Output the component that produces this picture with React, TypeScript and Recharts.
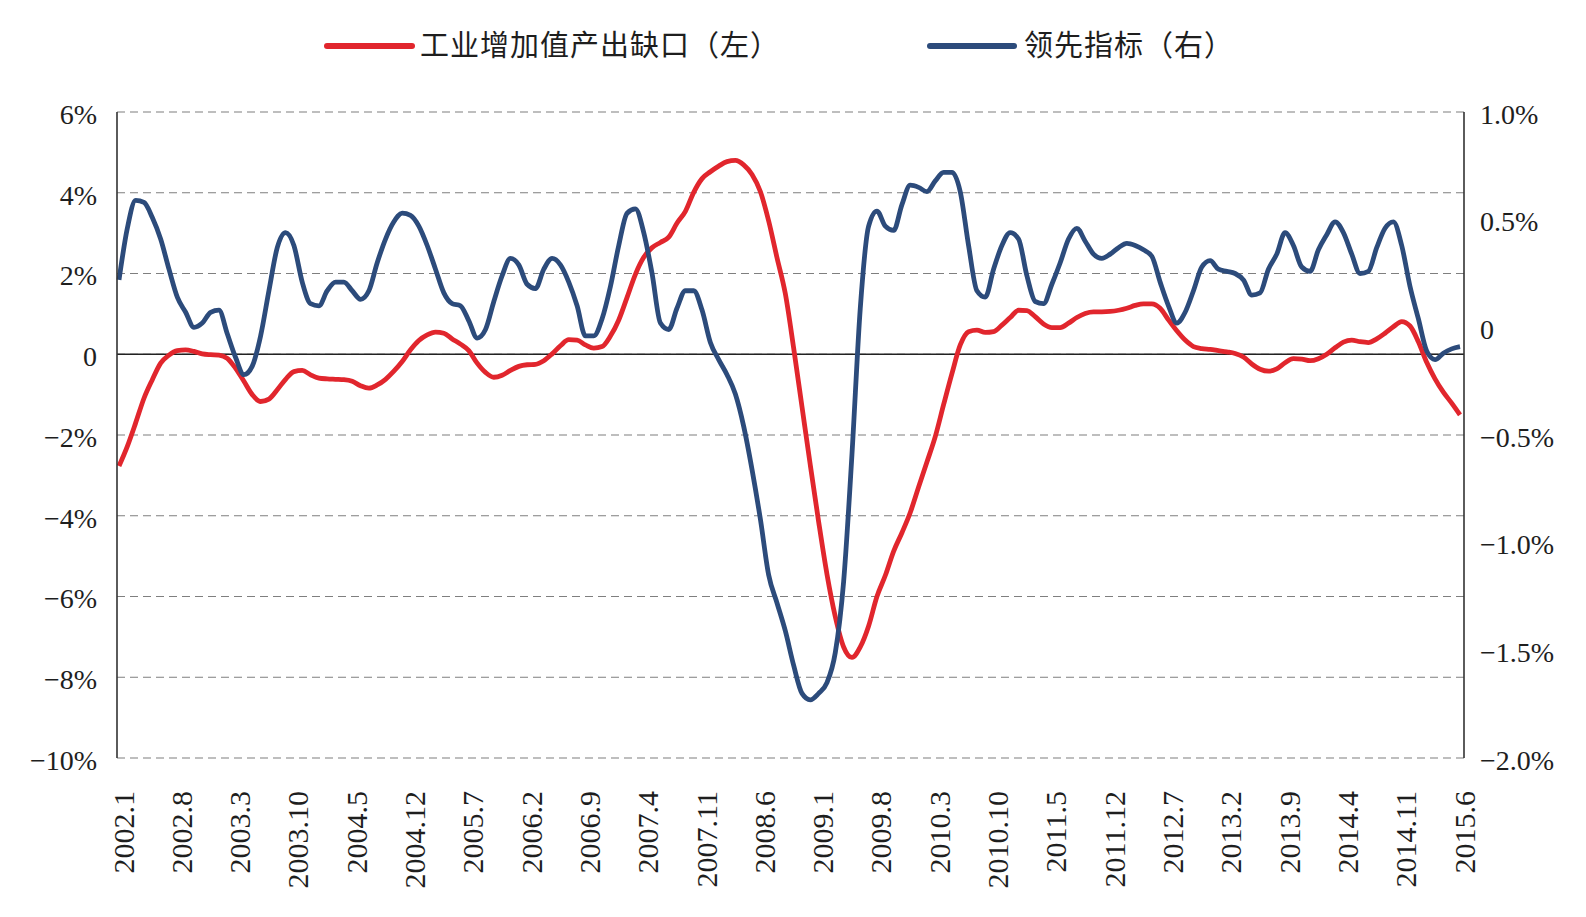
import React from "react";
import {
  LineChart,
  Line,
  XAxis,
  YAxis,
  CartesianGrid,
  ReferenceLine,
} from "recharts";

// Monthly categories, 2002.1 through 2015.6
const months: string[] = [];
for (let y = 2002; y <= 2015; y++) {
  for (let m = 1; m <= 12; m++) {
    if (y === 2015 && m > 6) break;
    months.push(`${y}.${m}`);
  }
}

const tickLabels = [
  "2002.1", "2002.8", "2003.3", "2003.10", "2004.5", "2004.12", "2005.7",
  "2006.2", "2006.9", "2007.4", "2007.11", "2008.6", "2009.1", "2009.8",
  "2010.3", "2010.10", "2011.5", "2011.12", "2012.7", "2013.2", "2013.9",
  "2014.4", "2014.11", "2015.6",
];

// 工业增加值产出缺口 (left axis, %)
const outputGap = [
  -2.77, -2.28, -1.70, -1.09, -0.63, -0.22, -0.02, 0.09, 0.11, 0.07, 0.01, -0.01,
  -0.02, -0.10, -0.35, -0.67, -1.00, -1.17, -1.11, -0.88, -0.62, -0.43, -0.40, -0.51,
  -0.59, -0.61, -0.62, -0.63, -0.67, -0.78, -0.84, -0.76, -0.62, -0.42, -0.18, 0.11,
  0.34, 0.48, 0.55, 0.52, 0.38, 0.25, 0.09, -0.22, -0.45, -0.57, -0.52, -0.40,
  -0.30, -0.26, -0.25, -0.16, 0.01, 0.21, 0.36, 0.35, 0.23, 0.15, 0.19, 0.45,
  0.85, 1.41, 1.98, 2.40, 2.64, 2.77, 2.90, 3.25, 3.54, 4.01, 4.35, 4.52,
  4.66, 4.77, 4.80, 4.69, 4.45, 4.03, 3.30, 2.39, 1.50, 0.15, -1.30, -2.75,
  -4.15, -5.45, -6.50, -7.25, -7.51, -7.25, -6.73, -6.00, -5.48, -4.88, -4.42, -3.92,
  -3.29, -2.67, -2.04, -1.25, -0.48, 0.23, 0.56, 0.60, 0.54, 0.56, 0.72, 0.91,
  1.09, 1.08, 0.93, 0.75, 0.66, 0.66, 0.77, 0.91, 1.01, 1.05, 1.05, 1.06,
  1.09, 1.14, 1.21, 1.25, 1.25, 1.14, 0.85, 0.58, 0.35, 0.19, 0.14, 0.12,
  0.09, 0.06, 0.02, -0.07, -0.24, -0.37, -0.42, -0.36, -0.21, -0.11, -0.12, -0.16,
  -0.11, 0.00, 0.16, 0.30, 0.35, 0.31, 0.29, 0.38, 0.52, 0.68, 0.81, 0.70,
  0.31, -0.20, -0.61, -0.94, -1.21, -1.50,
];

// 领先指标 (right axis, %)
const leadingIndex = [
  0.22, 0.46, 0.59, 0.58, 0.51, 0.41, 0.27, 0.14, 0.07, 0.00, 0.02, 0.07,
  0.08, -0.03, -0.14, -0.22, -0.18, -0.04, 0.17, 0.37, 0.44, 0.38, 0.21, 0.11,
  0.10, 0.17, 0.21, 0.21, 0.17, 0.13, 0.17, 0.30, 0.41, 0.49, 0.53, 0.52,
  0.47, 0.38, 0.27, 0.16, 0.11, 0.10, 0.03, -0.05, -0.01, 0.12, 0.24, 0.32,
  0.29, 0.20, 0.18, 0.27, 0.32, 0.29, 0.21, 0.10, -0.04, -0.04, 0.04, 0.19,
  0.38, 0.53, 0.55, 0.44, 0.25, 0.02, -0.01, 0.09, 0.17, 0.17, 0.08, -0.07,
  -0.15, -0.22, -0.31, -0.46, -0.66, -0.89, -1.15, -1.28, -1.41, -1.57, -1.70, -1.73,
  -1.70, -1.65, -1.51, -1.18, -0.59, 0.09, 0.47, 0.54, 0.47, 0.45, 0.57, 0.66,
  0.65, 0.63, 0.68, 0.72, 0.72, 0.63, 0.38, 0.17, 0.14, 0.27, 0.38, 0.44,
  0.41, 0.24, 0.12, 0.11, 0.20, 0.30, 0.41, 0.46, 0.40, 0.34, 0.32, 0.34,
  0.37, 0.39, 0.38, 0.36, 0.33, 0.21, 0.10, 0.02, 0.07, 0.17, 0.28, 0.31,
  0.27, 0.26, 0.25, 0.22, 0.15, 0.16, 0.27, 0.34, 0.44, 0.38, 0.28, 0.26,
  0.36, 0.43, 0.49, 0.44, 0.34, 0.25, 0.26, 0.37, 0.46, 0.49, 0.38, 0.19,
  0.04, -0.11, -0.15, -0.12, -0.10, -0.09,
];

const leftTicks = [-10, -8, -6, -4, -2, 0, 2, 4, 6];
const rightTicks = [-2, -1.5, -1, -0.5, 0, 0.5, 1];

const seriesNames = ["工业增加值产出缺口（左）", "领先指标（右）"];

const RED = "#E1262D";
const BLUE = "#2C4B7B";
const INK = "#1e1e1e";
const SERIF = "'Liberation Serif', 'DejaVu Serif', serif";
const CJK = "'Noto Sans CJK SC', 'Noto Sans', sans-serif";

const data = months.map((month, i) => ({
  month,
  gap: outputGap[i],
  lead: leadingIndex[i],
}));

const fmtLeft = (v: number) =>
  v === 0 ? "0" : `${v < 0 ? "\u2212" : ""}${Math.abs(v)}%`;
const fmtRight = (v: number) =>
  v === 0 ? "0" : `${v < 0 ? "\u2212" : ""}${Math.abs(v).toFixed(1)}%`;

const LeftTick = (props: any) => {
  const { x, y, payload } = props;
  return (
    <text x={x} y={y + 2} dy="0.35em" textAnchor="end" fontFamily={SERIF} fontSize={28} fill={INK}>
      {fmtLeft(payload.value)}
    </text>
  );
};

const RightTick = (props: any) => {
  const { x, y, payload } = props;
  return (
    <text x={x} y={y + 2} dy="0.35em" textAnchor="start" fontFamily={SERIF} fontSize={28} fill={INK}>
      {fmtRight(payload.value)}
    </text>
  );
};

const BottomTick = (props: any) => {
  const { x, y, payload } = props;
  return (
    <text
      transform={`translate(${x + 4},${y}) rotate(-90)`}
      textAnchor="end"
      dy="0.35em"
      fontFamily={SERIF}
      fontSize={30}
      fill={INK}
    >
      {payload.value}
    </text>
  );
};

const LegendBar = () => (
  <svg width={1586} height={90} style={{ position: "absolute", left: 0, top: 0 }}>
    <line x1={327} y1={46} x2={412} y2={46} stroke={RED} strokeWidth={6} strokeLinecap="round" />
    <text x={420} y={46} dy="0.36em" fontFamily={CJK} fontSize={29} letterSpacing={1} fill={INK}>
      {seriesNames[0]}
    </text>
    <line x1={930} y1={46} x2={1014} y2={46} stroke={BLUE} strokeWidth={6} strokeLinecap="round" />
    <text x={1024} y={46} dy="0.36em" fontFamily={CJK} fontSize={29} letterSpacing={1} fill={INK}>
      {seriesNames[1]}
    </text>
  </svg>
);

export default function App() {
  return (
    <div style={{ position: "absolute", left: 0, top: 0, width: 1586, height: 917, background: "#fff" }}>
      <LineChart
        width={1586}
        height={917}
        data={data}
        margin={{ top: 112, right: 0, bottom: 0, left: 0 }}
      >
        <CartesianGrid
          yAxisId="left"
          vertical={false}
          stroke="#7f7f7f"
          strokeWidth={1.2}
          strokeDasharray="8 5"
        />
        <XAxis
          dataKey="month"
          ticks={tickLabels}
          interval={0}
          height={159}
          tickLine={false}
          axisLine={false}
          tickSize={0}
          tickMargin={33}
          padding={{ left: 2, right: 4 }}
          tick={BottomTick}
        />
        <YAxis
          yAxisId="left"
          orientation="left"
          width={117}
          domain={[-10, 6]}
          ticks={leftTicks}
          interval={0}
          allowDataOverflow
          tickLine={false}
          tickSize={0}
          tickMargin={20}
          axisLine={{ stroke: "#333", strokeWidth: 1.6 }}
          tick={LeftTick}
        />
        <YAxis
          yAxisId="right"
          orientation="right"
          width={122}
          domain={[-2, 1]}
          ticks={rightTicks}
          interval={0}
          allowDataOverflow
          tickLine={false}
          tickSize={0}
          tickMargin={16}
          axisLine={{ stroke: "#333", strokeWidth: 1.6 }}
          tick={RightTick}
        />
        <ReferenceLine yAxisId="left" y={0} stroke="#222" strokeWidth={1.6} />
        <Line
          yAxisId="left"
          type="monotone"
          dataKey="gap"
          stroke={RED}
          strokeWidth={4.8}
          strokeLinejoin="round"
          dot={false}
          activeDot={false}
          isAnimationActive={false}
        />
        <Line
          yAxisId="right"
          type="monotone"
          dataKey="lead"
          stroke={BLUE}
          strokeWidth={4.8}
          strokeLinejoin="round"
          dot={false}
          activeDot={false}
          isAnimationActive={false}
        />
      </LineChart>
      <LegendBar />
    </div>
  );
}
